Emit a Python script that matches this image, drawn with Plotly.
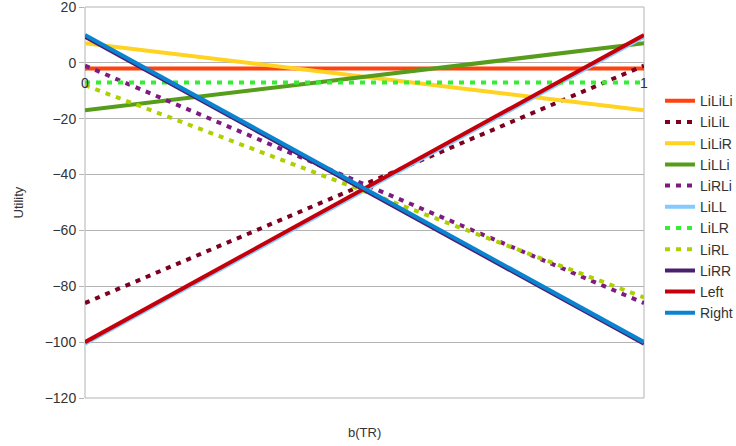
import plotly.graph_objects as go

x_vals = [0, 1]
names = ["LiLiLi", "LiLiL", "LiLiR", "LiLLi", "LiRLi", "LiLL", "LiLR", "LiRL", "LiRR", "Left", "Right"]
LiLiLi = [-2, -2]
LiLiL = [-86, -1]
LiLiR = [7, -17]
LiLLi = [-17, 7]
LiRLi = [-1, -86]
LiLL = [-100.6, 9.4]
LiLR = [-7, -7]
LiRL = [-8, -84]
LiRR = [9.4, -100.6]
Left = [-100, 10]
Right = [10, -100]
series = [LiLiLi, LiLiL, LiLiR, LiLLi, LiRLi, LiLL, LiLR, LiRL, LiRR, Left, Right]
colors = ["#ff420e", "#7e0021", "#ffd320", "#579d1c", "#7f1a80", "#83caff",
          "#33ee33", "#aecf00", "#4b1f6f", "#c5000b", "#0a84d0"]
dotted = [False, True, False, False, True, False, True, True, False, False, False]

y_ticks = [20, 0, -20, -40, -60, -80, -100, -120]
x_ticks = [0, 1]
x_labels = ["0", "1"]

fig = go.Figure()
for n, ys, c, d in zip(names, series, colors, dotted):
    fig.add_trace(go.Scatter(
        x=x_vals, y=ys, name=n, mode="lines",
        line=dict(color=c, width=4, dash="5px,6px" if d else "solid"),
    ))

font = "Liberation Sans, Arial, sans-serif"
grid = "#b3b3b3"
fig.update_layout(
    width=736, height=446,
    margin=dict(l=85, r=92, t=7, b=48, autoexpand=False),
    paper_bgcolor="white", plot_bgcolor="white",
    font=dict(family=font, size=13, color="#333333"),
    showlegend=True,
    legend=dict(x=1.0286, y=0.488, xanchor="left", yanchor="middle",
                font=dict(family=font, size=14, color="#333333"),
                bgcolor="rgba(0,0,0,0)", itemwidth=30),
    xaxis=dict(range=[0, 1], tickvals=x_ticks, ticktext=x_labels,
               showgrid=True, gridcolor=grid, gridwidth=1,
               zeroline=False, showline=False, automargin=False,
               anchor="free", position=120 / 140,
               ticks="outside", ticklen=7, tickcolor="rgba(0,0,0,0)",
               ticklabeloverflow="allow",
               tickfont=dict(size=14, color="#333333")),
    yaxis=dict(range=[-120, 20], tickvals=y_ticks,
               showgrid=True, gridcolor=grid, gridwidth=1,
               zeroline=False, showline=False, automargin=False,
               ticks="outside", ticklen=5, tickcolor=grid,
               ticklabeloverflow="allow",
               tickfont=dict(size=14, color="#333333")),
    shapes=[dict(type="rect", xref="paper", yref="paper", x0=0, x1=1, y0=0, y1=1,
                 line=dict(color=grid, width=1), layer="below")],
    annotations=[
        dict(text="b(TR)", xref="paper", yref="paper", x=0.5, y=0,
             yshift=-34, showarrow=False, yanchor="middle",
             font=dict(family=font, size=13, color="#333333")),
        dict(text="Utility", xref="paper", yref="paper", x=0, y=0.5,
             xshift=-67, showarrow=False, textangle=-90,
             xanchor="center", yanchor="middle",
             font=dict(family=font, size=13, color="#333333")),
    ],
)

fig.write_html(
    "out.html",
    config={"displayModeBar": False},
    post_script="document.body.style.margin='0';document.body.style.overflow='hidden';",
)
